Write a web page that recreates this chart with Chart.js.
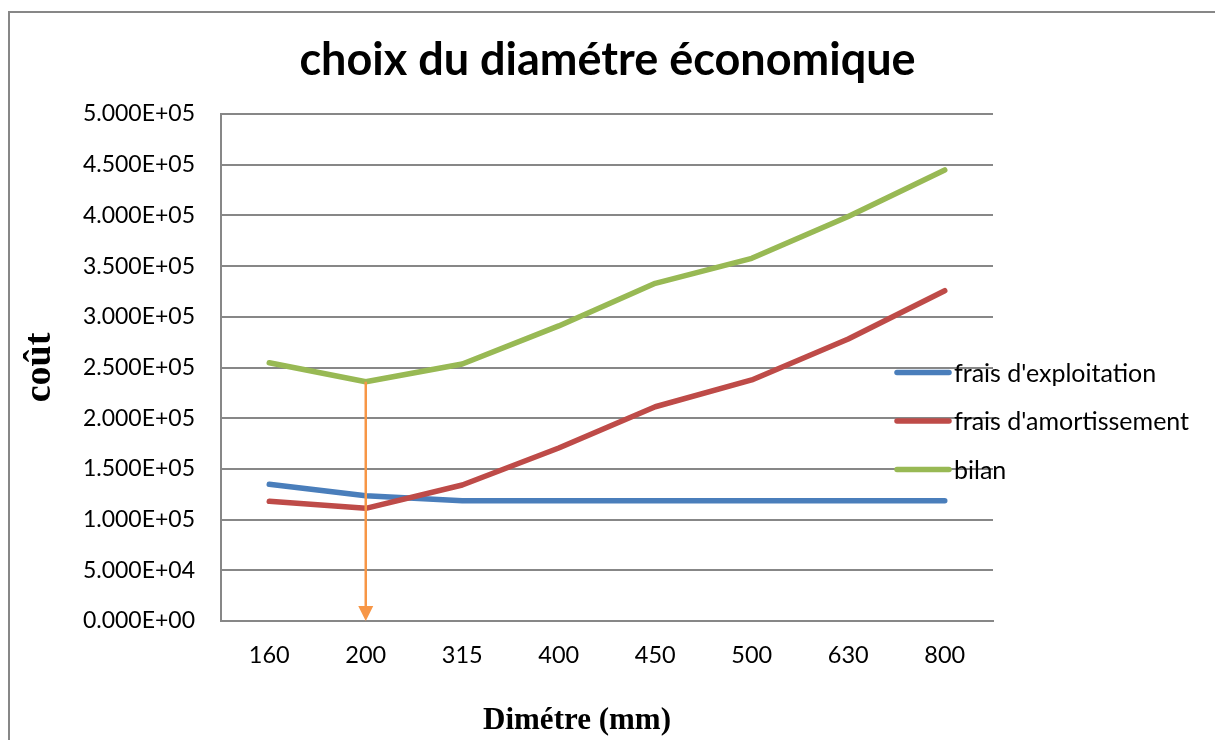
<!DOCTYPE html>
<html><head><meta charset="utf-8">
<script src="https://cdn.jsdelivr.net/npm/chart.js@4/dist/chart.umd.min.js"></script>
<style>
html,body{margin:0;padding:0;background:#fff;overflow:hidden;}
#wrap{position:relative;width:1215px;height:740px;overflow:hidden;}
#frame{position:absolute;left:8px;top:11px;width:1300px;height:800px;border:2px solid #878787;box-sizing:border-box;}
canvas{position:absolute;left:0;top:0;}
</style></head><body>
<div id="wrap"><div id="frame"></div><canvas id="c" width="1215" height="740"></canvas></div>
<script>
const categories = ['160','200','315','400','450','500','630','800'];
const fraisExploitation = [134800,123600,118600,118600,118600,118600,118600,118600];
const fraisAmortissement = [118000,111100,134100,170600,211300,237700,278100,325700];
const bilan = [254700,236000,253400,291000,333000,357700,399000,444800];
const seriesLabels = ["frais d'exploitation","frais d'amortissement","bilan"];
const seriesColors = ['#4A7EBB','#BE4B48','#98B954'];
const yMin = 0, yMax = 500000, yStep = 50000;
const chartTitle = 'choix du diamétre économique';
const yTitle = 'coût';
const xTitle = 'Dimétre (mm)';

function sci(v){
  if (v === 0) return '0.000E+00';
  const e = Math.floor(Math.log10(Math.abs(v)) + 1e-9);
  const m = v / Math.pow(10, e);
  return m.toFixed(3) + 'E' + (e < 0 ? '-' : '+') + String(Math.abs(e)).padStart(2, '0');
}

const sideLegend = {
  id: 'sideLegend',
  afterDraw(chart){
    const ctx = chart.ctx;
    ctx.save();
    chart.data.datasets.forEach((ds, i) => {
      const y = 372.5 + i * 48.5;
      ctx.strokeStyle = ds.borderColor;
      ctx.lineWidth = 5.5;
      ctx.lineCap = 'round';
      ctx.beginPath(); ctx.moveTo(897, y); ctx.lineTo(949, y); ctx.stroke();
      ctx.fillStyle = '#000';
      ctx.font = '25px Lato';
      ctx.textBaseline = 'middle';
      ctx.textAlign = 'left';
      ctx.fillText(ds.label, 954, y + 1);
    });
    ctx.font = 'bold 31px "Liberation Serif"';
    ctx.textAlign = 'center';
    ctx.textBaseline = 'alphabetic';
    ctx.fillText(xTitle, 577, 729);
    ctx.restore();
  }
};

const arrowPlugin = {
  id: 'minArrow',
  afterDatasetsDraw(chart){
    const xs = chart.scales.x, ys = chart.scales.y, ctx = chart.ctx;
    const idx = bilan.indexOf(Math.min(...bilan));
    const x = xs.getPixelForValue(idx);
    const y0 = ys.getPixelForValue(bilan[idx]);
    const y1 = ys.getPixelForValue(0);
    ctx.save();
    ctx.strokeStyle = '#F79646'; ctx.fillStyle = '#F79646';
    ctx.lineWidth = 2.5;
    ctx.beginPath(); ctx.moveTo(x, y0); ctx.lineTo(x, y1 - 12); ctx.stroke();
    ctx.beginPath(); ctx.moveTo(x - 7.5, y1 - 15); ctx.lineTo(x + 7.5, y1 - 15); ctx.lineTo(x, y1); ctx.closePath(); ctx.fill();
    ctx.restore();
  }
};

const mk = (label, data, color, order) => ({
  label, data, borderColor: color, backgroundColor: color, borderWidth: 5.5,
  borderCapStyle: 'round', borderJoinStyle: 'round', pointRadius: 0, pointHoverRadius: 0,
  tension: 0, fill: false, order, yAxisID: 'y'
});

new Chart(document.getElementById('c'), {
  type: 'line',
  data: {
    labels: categories,
    datasets: [
      mk(seriesLabels[0], fraisExploitation, seriesColors[0], 3),
      mk(seriesLabels[1], fraisAmortissement, seriesColors[1], 2),
      mk(seriesLabels[2], bilan, seriesColors[2], 1)
    ]
  },
  options: {
    responsive: false,
    animation: false,
    devicePixelRatio: 1,
    layout: { padding: { left: 0, right: 0, top: 0, bottom: 0 } },
    plugins: {
      legend: { display: false },
      tooltip: { enabled: false },
      title: {
        display: true, text: chartTitle, color: '#000',
        font: { family: 'Lato', size: 45, weight: 'bold', lineHeight: 1.2 },
        padding: { top: 33, bottom: 27 }
      }
    },
    scales: {
      x: {
        type: 'category', offset: true,
        grid: { display: false, drawTicks: false, tickLength: 0 },
        border: { display: true, color: '#878787', width: 2 },
        ticks: { color: '#000', font: { family: 'Lato', size: 23.5 }, padding: 20, maxRotation: 0, autoSkip: false },
        afterFit: s => { s.height = 119; }
      },
      y: {
        position: 'left',
        min: yMin, max: yMax,
        grid: { color: '#878787', lineWidth: 2, drawTicks: false, tickLength: 0 },
        border: { display: true, color: '#878787', width: 2 },
        ticks: { stepSize: yStep, color: '#000', font: { family: 'Lato', size: 23 }, padding: 26, callback: v => sci(v) },
        title: { display: true, text: yTitle, color: '#000', font: { family: 'Liberation Serif', size: 38, weight: 'bold', lineHeight: 1.2 }, padding: { top: 17, bottom: 0 } },
        afterFit: s => { s.width = 221; }
      },
      legendSpace: {
        position: 'right',
        grid: { display: false, drawTicks: false },
        border: { display: false },
        ticks: { display: false },
        afterFit: s => { s.width = 222; }
      }
    }
  },
  plugins: [arrowPlugin, sideLegend]
});
</script>
</body></html>
